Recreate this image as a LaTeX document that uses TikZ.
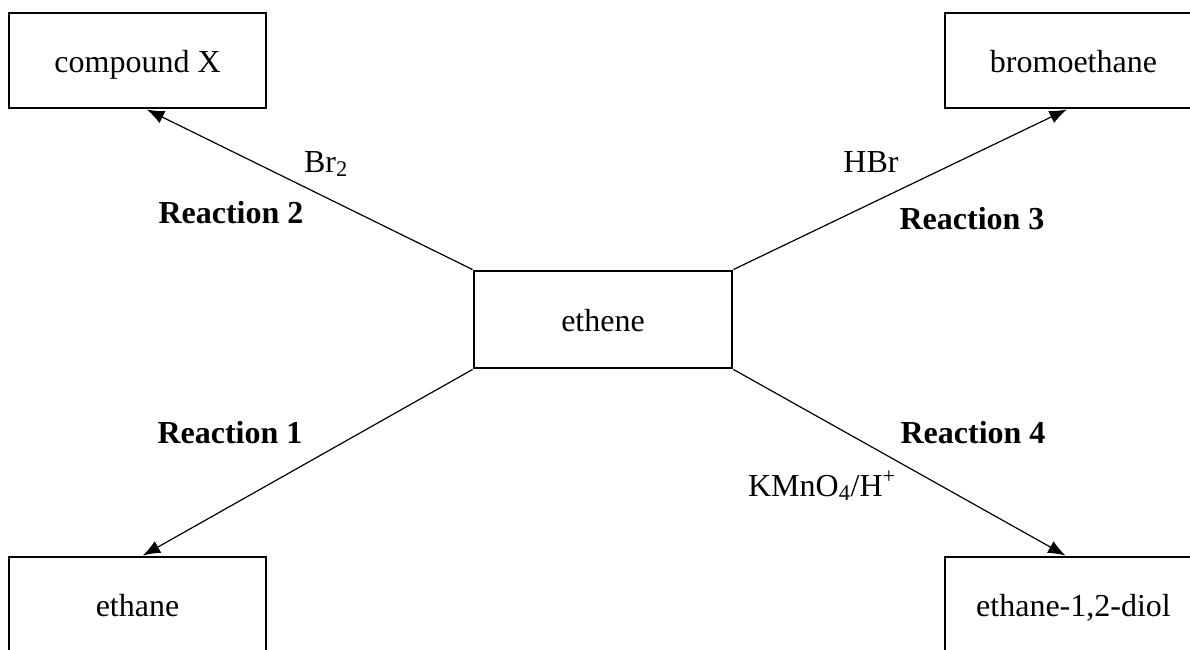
\documentclass[tikz,border=0pt]{standalone}
\usepackage{fontspec}
\setmainfont{Liberation Serif}
\usetikzlibrary{arrows.meta}

\begin{document}
\begin{tikzpicture}[x=0.75pt, y=-0.75pt,
    chembox/.style={draw, line width=2.2pt, rectangle, inner sep=0pt, minimum width=192.75pt, minimum height=71.25pt, text height=20pt, text depth=2pt, font=\fontsize{24}{28}\selectfont},
    rxnarrow/.style={-{Latex[length=13pt,width=10pt]}, line width=0.9pt},
    rxnlabel/.style={anchor=base, inner sep=0pt, font=\fontsize{24}{28}\selectfont\bfseries},
    reagent/.style={anchor=base, inner sep=0pt, font=\fontsize{24}{28}\selectfont}]
            \useasboundingbox (0,0) rectangle (1190,650);
            \clip (0,0) rectangle (1190,650);
            % centre and the four products
            \node[chembox, minimum width=193.5pt, minimum height=72.75pt] (ethene) at (603,319.5) {ethene};
            \node[chembox] (cpdX) at (137.5,60.5) {compound X};
            \node[chembox] (bromo) at (1073.5,60.5) {bromoethane};
            \node[chembox] (ethane) at (137.5,604.5) {ethane};
            \node[chembox] (diol) at (1073.5,604.5) {ethane-1,2-diol};
            % reactions
            \draw[rxnarrow] (ethene.south west) -- ([xshift=4pt]ethane.north);
            \draw[rxnarrow] (ethene.north west) -- ([xshift=7pt]cpdX.south);
            \draw[rxnarrow] (ethene.north east) -- ([xshift=-5pt]bromo.south);
            \draw[rxnarrow] (ethene.south east) -- ([xshift=-6pt]diol.north);
            % labels
            \node[reagent] (br2) at (326,172) {Br\textsubscript{2}};
            \node[reagent] (hbr) at (871,172) {HBr};
            \node[reagent] (kmno4) at (822,496) {KMnO\textsubscript{4}/H\textsuperscript{+}};
            \node[rxnlabel] (rxn1) at (230,443) {Reaction 1};
            \node[rxnlabel] (rxn2) at (231,223) {Reaction 2};
            \node[rxnlabel] (rxn3) at (972,229) {Reaction 3};
            \node[rxnlabel] (rxn4) at (973,443) {Reaction 4};
        \end{tikzpicture}
\end{document}
